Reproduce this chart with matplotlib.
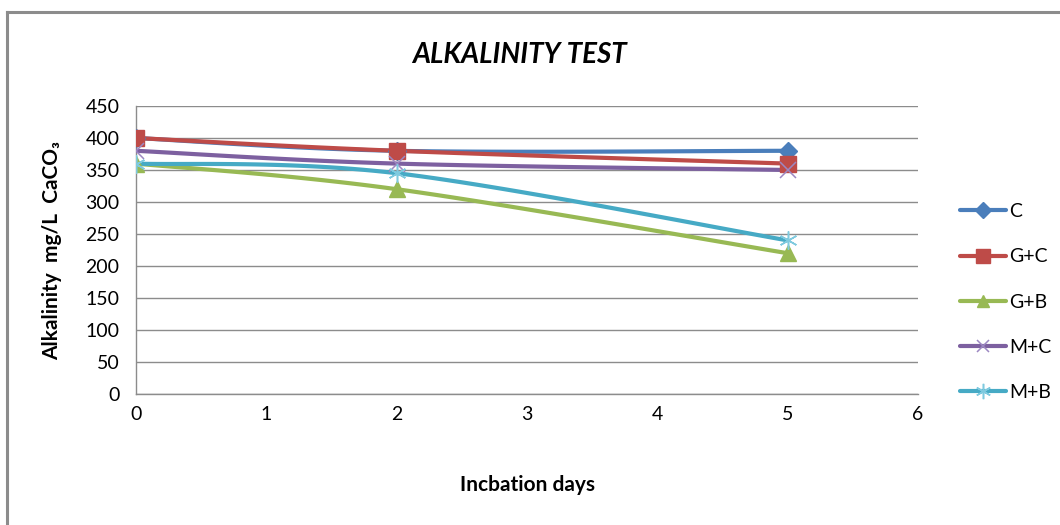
import matplotlib.pyplot as plt
from matplotlib.lines import Line2D
import numpy as np

# Data
days = [0, 2, 5]
series_names = ['C', 'G+C', 'G+B', 'M+C', 'M+B']
c_vals = [400, 380, 380]
gc_vals = [400, 380, 360]
gb_vals = [360, 320, 220]
mc_vals = [380, 360, 350]
mb_vals = [360, 345, 240]
yticks = [0, 50, 100, 150, 200, 250, 300, 350, 400, 450]
xticks = [0, 1, 2, 3, 4, 5, 6]

colors = ['#4A7EBB', '#BE4B48', '#98B954', '#7D60A0', '#46AAC5']
marker_colors = ['#4A7EBB', '#BE4B48', '#98B954', '#9C87C2', '#7FCADF']
markers = ['D', 's', '^', 'x', (6, 2, 0)]
msizes = [9, 12, 11, 11, 13]
mews = [1, 1, 1, 1.1, 1.1]


def smooth(x, y, n=30):
    # Excel-like smoothed line (cubic Bezier, tension 1/6)
    x = np.asarray(x, float)
    y = np.asarray(y, float)
    px = np.concatenate([[x[0]], x, [x[-1]]])
    py = np.concatenate([[y[0]], y, [y[-1]]])
    xs, ys = [], []
    t = np.linspace(0, 1, n)
    for i in range(1, len(px) - 2):
        p0 = np.array([px[i], py[i]])
        p3 = np.array([px[i + 1], py[i + 1]])
        p1 = p0 + (np.array([px[i + 1], py[i + 1]]) - np.array([px[i - 1], py[i - 1]])) / 6
        p2 = p3 - (np.array([px[i + 2], py[i + 2]]) - np.array([px[i], py[i]])) / 6
        b = ((1 - t) ** 3)[:, None] * p0 + (3 * (1 - t) ** 2 * t)[:, None] * p1 \
            + (3 * (1 - t) * t ** 2)[:, None] * p2 + (t ** 3)[:, None] * p3
        xs.extend(b[:, 0])
        ys.extend(b[:, 1])
    return xs, ys


plt.rcParams['font.family'] = ['Lato', 'DejaVu Sans']

fig = plt.figure(figsize=(10.6, 5.25), dpi=100)
ax = fig.add_axes([136 / 1060, 1 - 394 / 525, (918 - 136) / 1060, (394 - 106) / 525])

all_vals = [c_vals, gc_vals, gb_vals, mc_vals, mb_vals]
handles = []
for name, vals, col, mcol, mk, ms, mew in zip(series_names, all_vals, colors, marker_colors,
                                              markers, msizes, mews):
    sx, sy = smooth(days, vals)
    ax.plot(sx, sy, color=col, lw=3, solid_capstyle='round', zorder=3)
    ax.plot(days, vals, linestyle='none', marker=mk, markersize=ms, color=mcol,
            markeredgecolor=mcol, markeredgewidth=mew, zorder=4)
    handles.append(Line2D([], [], color=col, lw=3, marker=mk, markersize=ms * 0.85,
                          markerfacecolor=mcol, markeredgecolor=mcol,
                          markeredgewidth=mew, solid_capstyle='round'))

ax.set_xlim(0, 6)
ax.set_ylim(0, 450)
ax.set_xticks(xticks)
ax.set_yticks(yticks)
ax.tick_params(axis='both', length=0, labelsize=14, colors='black')
ax.tick_params(axis='y', pad=12)
ax.tick_params(axis='x', pad=9)
ax.grid(axis='y', color='#8C8C8C', lw=1)
ax.set_axisbelow(True)
for s in ['top', 'right']:
    ax.spines[s].set_visible(False)
for s in ['left', 'bottom']:
    ax.spines[s].set_color('#8C8C8C')
    ax.spines[s].set_linewidth(1)

ax.set_xlabel('Incbation days', fontsize=15, fontweight='bold')
ax.xaxis.set_label_coords(0.5, -0.28)
ax.set_ylabel('Alkalinity  mg/L  CaCO₃', fontsize=15, fontweight='bold')
ax.yaxis.set_label_coords(-0.095, 0.5)

fig.text(519 / 1060, 1 - 55 / 525, 'ALKALINITY TEST', ha='center', va='center',
         fontsize=20, fontweight='bold', fontstyle='italic')

fig.legend(handles, series_names, loc='center left', bbox_to_anchor=(952 / 1060, 1 - 302 / 525),
           frameon=False, fontsize=14, handlelength=2.4, handletextpad=0.15,
           labelspacing=1.45, borderaxespad=0)

# outer chart border (left and top edges visible)
fig.add_artist(Line2D([7 / 1060, 7 / 1060], [0, 1 - 12 / 525], color='#8C8C8C', lw=2.2))
fig.add_artist(Line2D([7 / 1060, 1], [1 - 12 / 525, 1 - 12 / 525], color='#8C8C8C', lw=2.2))

fig.savefig('out.png', dpi=100)
